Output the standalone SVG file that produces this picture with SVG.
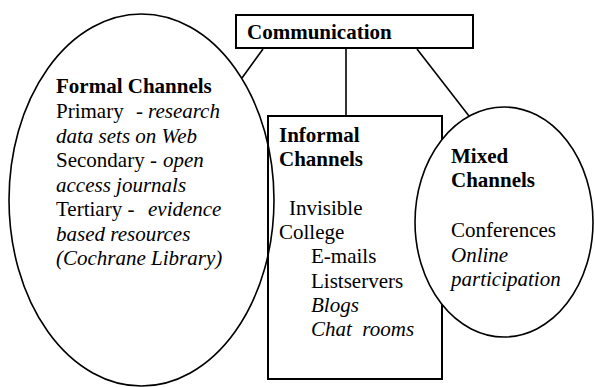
<svg xmlns="http://www.w3.org/2000/svg" width="595" height="387" viewBox="0 0 595 387" font-family="Liberation Serif, Times New Roman, serif" font-size="21">
<style>
.b{font-weight:bold}
.i{font-style:italic}
.shape{stroke:#000;stroke-width:1.6}
.box{stroke:#000;stroke-width:2}
.conn line{stroke:#000;stroke-width:1.6}
</style>
<rect width="595" height="387" fill="#fff"/>
<g class="conn" id="connectors">
<line x1="263" y1="49" x2="242" y2="78"/>
<line x1="346" y1="49" x2="346" y2="116"/>
<line x1="417" y1="49" x2="469" y2="116"/>
</g>
<g id="informal" font-family="Liberation Serif, serif">
<rect class="box" x="268" y="116" width="174" height="263" fill="#fff"/>
<text class="b" x="279" y="141.7">Informal</text>
<text class="b" x="279" y="166">Channels</text>
<text x="289" y="214.5">Invisible</text>
<text x="279" y="239">College</text>
<text x="311" y="263">E-mails</text>
<text x="311" y="287.5">Listservers</text>
<text class="i" x="311" y="312">Blogs</text>
<text class="i" x="311" y="336" xml:space="preserve">Chat  rooms</text>
</g>
<g id="formal" font-family="Liberation Serif, serif">
<ellipse class="shape" cx="141.5" cy="200" rx="132.5" ry="186" fill="none"/>
<text class="b" x="56" y="93">Formal Channels</text>
<text x="56" y="118">Primary<tspan x="136">-</tspan><tspan class="i" x="148">research</tspan></text>
<text class="i" x="56" y="142.5">data sets on Web</text>
<text x="56" y="167">Secondary -<tspan class="i" x="163">open</tspan></text>
<text class="i" x="56" y="191.5">access journals</text>
<text x="56" y="216">Tertiary -<tspan class="i" x="148">evidence</tspan></text>
<text class="i" x="56" y="240.5">based resources</text>
<text class="i" x="56" y="265">(Cochrane Library)</text>
</g>
<g id="mixed" font-family="Liberation Serif, serif">
<ellipse class="shape" cx="504" cy="222" rx="89" ry="115" fill="#fff"/>
<text class="b" x="451" y="162.7">Mixed</text>
<text class="b" x="451" y="187">Channels</text>
<text x="451" y="237">Conferences</text>
<text class="i" x="451" y="261.5">Online</text>
<text class="i" x="451" y="286">participation</text>
</g>
<g id="communication" font-family="Liberation Serif, serif">
<rect class="box" x="236" y="15" width="237" height="33" fill="#fff"/>
<text class="b" x="247" y="39">Communication</text>
</g>
</svg>
